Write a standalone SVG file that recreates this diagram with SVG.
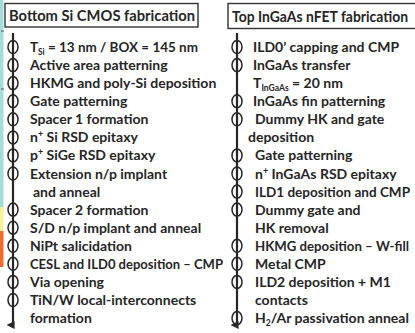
<svg xmlns="http://www.w3.org/2000/svg" width="415" height="333" viewBox="0 0 415 333">
<defs>
<style>
text{font-family:Lato,"Liberation Sans",sans-serif;font-weight:700;font-size:14px;fill:#262626}
.title{font-size:15.5px}
.box{fill:#fff;stroke:#333;stroke-width:1.4}
.tl{stroke:#262626;stroke-width:2.2;fill:none}
.ring{fill:none;stroke:#262626;stroke-width:1.5}
.sub{font-size:8.5px}
.sup{font-size:9px}
</style>
<marker id="ah" viewBox="0 0 10 10" refX="5" refY="2" markerWidth="3.6" markerHeight="3.6" orient="auto" markerUnits="strokeWidth">
<path d="M0,0 L10,0 L5,10 Z" fill="#262626"/>
</marker>
</defs>
<rect width="415" height="333" fill="#fff"/>
<g id="strip">
<rect x="0" y="0" width="3.5" height="207" fill="#a8dbdb"/>
<rect x="0" y="207" width="3.5" height="24" fill="#f8f2a0"/>
<rect x="0" y="231" width="3.5" height="36" fill="#f06a36"/>
<line x1="1" y1="31" x2="4" y2="31" stroke="#555" stroke-width="1"/>
<line x1="1" y1="89" x2="4" y2="89" stroke="#555" stroke-width="1"/>
</g>
<g id="connectors">
<line class="tl" x1="13" y1="33" x2="13" y2="325" marker-end="url(#ah)"/>
<line class="tl" x1="237" y1="33" x2="237" y2="325" marker-end="url(#ah)"/>
</g>
<g id="bottom-title">
<rect class="box" x="5" y="3.5" width="193" height="23.5"/>
<text class="title" x="9" y="21" textLength="186" lengthAdjust="spacingAndGlyphs">Bottom Si CMOS fabrication</text>
</g>
<g id="top-title">
<rect class="box" x="228" y="3.5" width="190" height="25"/>
<text class="title" x="232" y="21.5" textLength="176" lengthAdjust="spacingAndGlyphs">Top InGaAs nFET fabrication</text>
</g>
<g id="bottom-steps">
<g class="ring">
<ellipse cx="13" cy="47" rx="5" ry="6.5"/>
<ellipse cx="13" cy="65.1" rx="5" ry="6.5"/>
<ellipse cx="13" cy="83.1" rx="5" ry="6.5"/>
<ellipse cx="13" cy="101.2" rx="5" ry="6.5"/>
<ellipse cx="13" cy="119.3" rx="5" ry="6.5"/>
<ellipse cx="13" cy="137.4" rx="5" ry="6.5"/>
<ellipse cx="13" cy="155.4" rx="5" ry="6.5"/>
<ellipse cx="13" cy="173.5" rx="5" ry="6.5"/>
<ellipse cx="13" cy="209.6" rx="5" ry="6.5"/>
<ellipse cx="13" cy="227.7" rx="5" ry="6.5"/>
<ellipse cx="13" cy="245.8" rx="5" ry="6.5"/>
<ellipse cx="13" cy="263.8" rx="5" ry="6.5"/>
<ellipse cx="13" cy="281.9" rx="5" ry="6.5"/>
<ellipse cx="13" cy="300" rx="5" ry="6.5"/>
</g>
<text x="30" y="52" textLength="168" lengthAdjust="spacingAndGlyphs">T<tspan class="sub" dy="3">Si</tspan><tspan dy="-3"> = 13 nm / BOX = 145 nm</tspan></text>
<text x="30" y="70.1">Active area patterning</text>
<text x="30" y="88.1">HKMG and poly-Si deposition</text>
<text x="30" y="106.2">Gate patterning</text>
<text x="30" y="124.3">Spacer 1 formation</text>
<text x="30" y="142.4">n<tspan class="sup" dy="-5">+</tspan><tspan dy="5"> Si RSD epitaxy</tspan></text>
<text x="30" y="160.4">p<tspan class="sup" dy="-5">+</tspan><tspan dy="5"> SiGe RSD epitaxy</tspan></text>
<text x="30" y="178.5">Extension n/p implant</text>
<text x="33" y="196.6">and anneal</text>
<text x="30" y="214.6">Spacer 2 formation</text>
<text x="30" y="232.7">S/D n/p implant and anneal</text>
<text x="30" y="250.8">NiPt salicidation</text>
<text x="30" y="268.8" textLength="193" lengthAdjust="spacingAndGlyphs">CESL and ILD0 deposition – CMP</text>
<text x="30" y="286.9">Via opening</text>
<text x="30" y="305">TiN/W local-interconnects</text>
<text x="30" y="323.1">formation</text>
</g>
<g id="top-steps">
<g class="ring">
<ellipse cx="237" cy="47" rx="5" ry="6.5"/>
<ellipse cx="237" cy="65.1" rx="5" ry="6.5"/>
<ellipse cx="237" cy="101.2" rx="5" ry="6.5"/>
<ellipse cx="237" cy="119.3" rx="5" ry="6.5"/>
<ellipse cx="237" cy="155.4" rx="5" ry="6.5"/>
<ellipse cx="237" cy="173.5" rx="5" ry="6.5"/>
<ellipse cx="237" cy="191.6" rx="5" ry="6.5"/>
<ellipse cx="237" cy="209.6" rx="5" ry="6.5"/>
<ellipse cx="237" cy="245.8" rx="5" ry="6.5"/>
<ellipse cx="237" cy="263.8" rx="5" ry="6.5"/>
<ellipse cx="237" cy="281.9" rx="5" ry="6.5"/>
<ellipse cx="237" cy="318.1" rx="5" ry="6.5"/>
</g>
<text x="253" y="52">ILD0’ capping and CMP</text>
<text x="253" y="70.1">InGaAs transfer</text>
<text x="253" y="88.1">T<tspan class="sub" dy="3">InGaAs</tspan><tspan dy="-3"> = 20 nm</tspan></text>
<text x="253" y="106.2">InGaAs fin patterning</text>
<text x="255" y="124.3">Dummy HK and gate</text>
<text x="248" y="142.4">deposition</text>
<text x="255" y="160.4">Gate patterning</text>
<text x="255" y="178.5">n<tspan class="sup" dy="-5">+</tspan><tspan dy="5"> InGaAs RSD epitaxy</tspan></text>
<text x="255" y="196.6" textLength="155" lengthAdjust="spacingAndGlyphs">ILD1 deposition and CMP</text>
<text x="255" y="214.6">Dummy gate and</text>
<text x="255" y="232.7">HK removal</text>
<text x="255" y="250.8" textLength="154" lengthAdjust="spacingAndGlyphs">HKMG deposition – W-fill</text>
<text x="255" y="268.8">Metal CMP</text>
<text x="255" y="286.9">ILD2 deposition + M1</text>
<text x="255" y="305">contacts</text>
<text x="255" y="323.1">H<tspan class="sub" dy="3">2</tspan><tspan dy="-3">/Ar passivation anneal</tspan></text>
</g>
</svg>
